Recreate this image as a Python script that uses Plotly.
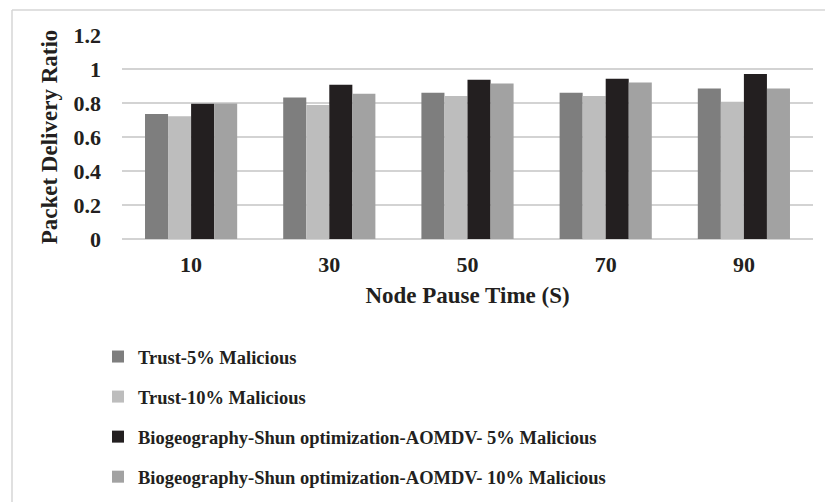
import plotly.graph_objects as go

categories = ["10", "30", "50", "70", "90"]
series_names = [
    "Trust-5% Malicious",
    "Trust-10% Malicious",
    "Biogeography-Shun optimization-AOMDV- 5% Malicious",
    "Biogeography-Shun optimization-AOMDV- 10% Malicious",
]
trust_5 = [0.735, 0.833, 0.861, 0.861, 0.886]
trust_10 = [0.722, 0.788, 0.841, 0.841, 0.808]
bio_5 = [0.795, 0.908, 0.937, 0.943, 0.971]
bio_10 = [0.797, 0.855, 0.914, 0.920, 0.886]
colors = ["#7e7e7e", "#bdbdbd", "#231f20", "#a2a2a2"]

FONT = "Liberation Serif"

fig = go.Figure()
for i, (name, vals) in enumerate(zip(series_names, [trust_5, trust_10, bio_5, bio_10])):
    fig.add_trace(go.Bar(
        x=categories, y=vals, name=name, legendgroup=f"g{i}",
        marker=dict(color=colors[i], line=dict(width=0)),
    ))

W, H = 825, 502
L, R, T, B = 122, 12, 35, 263
pw, ph = W - L - R, H - T - B

def px_x(x):
    return (x - L) / pw

def px_y(y):
    return (H - B - y) / ph

fig.update_layout(
    width=W, height=H,
    margin=dict(l=L, r=R, t=T, b=B, autoexpand=False),
    paper_bgcolor="white", plot_bgcolor="white",
    barmode="group", bargap=0.333, bargroupgap=0,
    font=dict(family=FONT, color="#231f20"),
    xaxis=dict(
        type="category", automargin=False,
        tickfont=dict(family=FONT, size=22, weight="bold"),
        title=dict(text="<b>Node Pause Time (S)</b>", font=dict(family=FONT, size=23), standoff=10),
        showgrid=False, showline=False, ticks="", ticklabelstandoff=10,
    ),
    yaxis=dict(
        range=[0, 1.2], automargin=False,
        tickvals=[0, 0.2, 0.4, 0.6, 0.8, 1.0, 1.2],
        ticktext=["0", "0.2", "0.4", "0.6", "0.8", "1", "1.2"],
        tickfont=dict(family=FONT, size=22, weight="bold"),
        title=dict(text="<b>Packet Delivery Ratio</b>", font=dict(family=FONT, size=23), standoff=9),
        showgrid=True, gridcolor="#d3d3d3", gridwidth=1.5,
        zeroline=True, zerolinecolor="#d3d3d3", zerolinewidth=1.5,
        ticklabelstandoff=20, ticks="",
    ),
    legend=dict(
        x=px_x(98), y=px_y(338), xanchor="left", yanchor="top",
        orientation="v", tracegroupgap=13,
        font=dict(family=FONT, size=18.5, weight="bold"),
        bgcolor="rgba(0,0,0,0)",
    ),
    showlegend=True,
    shapes=[
        dict(type="line", xref="paper", yref="paper",
             x0=px_x(12), x1=px_x(W + 5), y0=px_y(10), y1=px_y(10),
             line=dict(color="#d6d6d6", width=1.5)),
        dict(type="line", xref="paper", yref="paper",
             x0=px_x(12), x1=px_x(12), y0=px_y(10), y1=px_y(H + 5),
             line=dict(color="#d6d6d6", width=1.5)),
    ],
)

fig.write_html("out.html")
